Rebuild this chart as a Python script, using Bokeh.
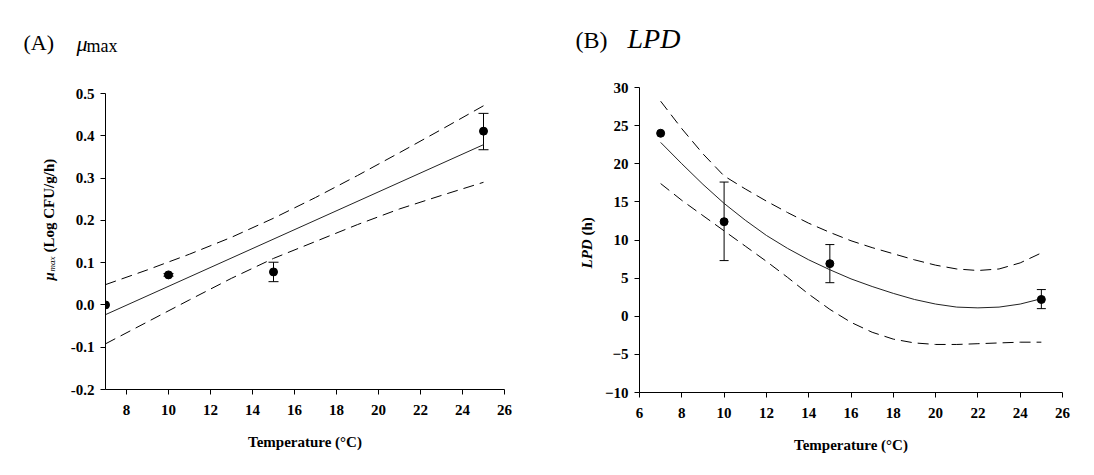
import math
from bokeh.plotting import figure
from bokeh.models import Range1d, FixedTicker, Whisker, ColumnDataSource, NumeralTickFormatter, TeeHead
from bokeh.core.properties import value
from bokeh.layouts import row, column
from bokeh.embed import file_html
from bokeh.resources import INLINE

# ---------------- data (A) mu_max ----------------
temp_a = [7, 10, 15, 25]
mu_a = [0.0, 0.071, 0.078, 0.411]
err_temp_a = [10, 15, 25]
err_lo_a = [0.068, 0.055, 0.367]
err_hi_a = [0.074, 0.101, 0.453]
line_x_a = [7, 25]
line_y_a = [-0.023, 0.379]
band_x_a = [7, 9, 11, 13, 15, 17, 19, 21, 23, 25]
band_up_a = [0.048, 0.083, 0.120, 0.160, 0.205, 0.254, 0.306, 0.360, 0.415, 0.471]
band_lo_a = [-0.092, -0.040, 0.012, 0.063, 0.110, 0.150, 0.190, 0.227, 0.259, 0.290]
xticks_a = [8, 10, 12, 14, 16, 18, 20, 22, 24, 26]
yticks_a = [-0.2, -0.1, 0.0, 0.1, 0.2, 0.3, 0.4, 0.5]

# ---------------- data (B) LPD ----------------
temp_b = [7, 10, 15, 25]
lpd_b = [24.0, 12.4, 6.9, 2.2]
err_temp_b = [10, 15, 25]
err_lo_b = [7.3, 4.4, 1.0]
err_hi_b = [17.6, 9.4, 3.5]
curve_x_b = [7, 8, 9, 10, 11, 12, 13, 14, 15, 16, 17, 18, 19, 20, 21, 22, 23, 24, 25]
curve_y_b = [22.8, 20.0, 17.3, 14.8, 12.6, 10.6, 8.9, 7.4, 6.1, 4.9, 3.9, 3.0, 2.2, 1.6, 1.2, 1.1, 1.2, 1.6, 2.3]
band_up_b = [28.2, 24.6, 21.3, 18.4, 16.7, 15.1, 13.6, 12.2, 11.0, 9.9, 9.0, 8.2, 7.4, 6.7, 6.2, 6.0, 6.2, 7.0, 8.3]
band_lo_b = [17.4, 15.2, 13.2, 11.2, 9.2, 7.2, 5.1, 2.9, 0.9, -0.8, -2.1, -3.0, -3.5, -3.7, -3.7, -3.6, -3.5, -3.4, -3.4]
xticks_b = [6, 8, 10, 12, 14, 16, 18, 20, 22, 24, 26]
yticks_b = [-10, -5, 0, 5, 10, 15, 20, 25, 30]

SERIF = "Liberation Serif"
DASH = "11 6"
HALF = math.pi / 2
TOP_H = 62  # height of the title strip


def style(p):
    p.grid.visible = False
    p.outline_line_color = None
    p.background_fill_color = "white"
    p.border_fill_color = "white"
    for ax in (p.xaxis[0], p.yaxis[0]):
        ax.axis_line_color = "black"
        ax.axis_line_width = 1
        ax.major_tick_line_color = "black"
        ax.major_tick_out = 5
        ax.major_tick_in = 0
        ax.minor_tick_line_color = None
        ax.major_label_text_font = SERIF
        ax.major_label_text_font_style = "bold"
        ax.major_label_text_font_size = "15px"
        ax.major_label_text_color = "black"
        ax.axis_label_text_font = SERIF
        ax.axis_label_text_font_style = "bold"
        ax.axis_label_text_font_size = "15px"
        ax.axis_label_text_color = "black"
    p.xaxis[0].major_label_standoff = 10
    p.yaxis[0].major_label_standoff = 6
    p.xaxis[0].axis_label_standoff = 16


def text_fig(x0, x1, y_bottom, y_top, fw, fh, bt=0, bb=0):
    f = figure(title=None, frame_width=fw, frame_height=fh, min_border_left=0, min_border_right=0,
               min_border_top=bt, min_border_bottom=bb,
               x_range=Range1d(x0, x1), y_range=Range1d(y_bottom, y_top),
               x_axis_type=None, y_axis_type=None,
               output_backend="svg", toolbar_location=None)
    f.outline_line_color = None
    f.background_fill_color = "white"
    f.border_fill_color = "white"
    return f


def txt(f, x, y, s, size, fstyle, angle=0.0, baseline="alphabetic"):
    f.text(x=[x], y=[y], text=[s], text_font=value(SERIF), text_font_size=value(size),
           text_font_style=value(fstyle), text_color="black", angle=angle,
           text_align=value("left"), text_baseline=value(baseline))


# ---------------- Panel titles (row 1) ----------------
title_a = text_fig(0, 553, TOP_H, 0, 553, TOP_H)
txt(title_a, 23, 42, "(A)", "22px", "normal")
txt(title_a, 76, 43, "μ", "22px", "italic")
txt(title_a, 86, 45, "max", "18px", "normal")

title_b = text_fig(553, 1082, TOP_H, 0, 529, TOP_H)
txt(title_b, 575, 39, "(B)", "24px", "normal")
txt(title_b, 627, 38, "LPD", "28px", "italic")

top_b = 87 - TOP_H

# ---------------- Panel A ----------------
ylab_a = text_fig(0, 60, 389, 87, 60, 302, bt=top_b, bb=81)
txt(ylab_a, 48, 280, "μ", "15px", "bold italic", angle=HALF, baseline="middle")
txt(ylab_a, 51, 271, "max", "9px", "italic", angle=HALF, baseline="middle")
txt(ylab_a, 48, 252, "(Log CFU/g/h)", "15px", "bold", angle=HALF, baseline="middle")

pa = figure(frame_width=399, frame_height=302, min_border_left=45, min_border_right=49,
            min_border_top=top_b, min_border_bottom=81,
            x_range=Range1d(7, 26), y_range=Range1d(-0.2, 0.5 + 6 * 0.7 / 296),
            output_backend="svg", toolbar_location=None)
style(pa)
pa.xaxis.ticker = FixedTicker(ticks=xticks_a)
pa.yaxis.ticker = FixedTicker(ticks=yticks_a)
pa.yaxis.bounds = (-0.2, 0.5)
pa.yaxis.formatter = NumeralTickFormatter(format="0.0")
pa.xaxis.axis_label = "Temperature (°C)"

pa.line(band_x_a, band_up_a, line_color="black", line_width=1, line_dash=DASH)
pa.line(band_x_a, band_lo_a, line_color="black", line_width=1, line_dash=DASH)
pa.line(line_x_a, line_y_a, line_color="#222222", line_width=1)
src_a = ColumnDataSource(dict(x=err_temp_a, lo=err_lo_a, hi=err_hi_a))
pa.add_layout(Whisker(base="x", lower="lo", upper="hi", source=src_a, line_color="black",
                      upper_head=TeeHead(size=10, line_color="black"),
                      lower_head=TeeHead(size=10, line_color="black")))
pa.scatter(temp_a, mu_a, size=8, fill_color="black", line_color="black")

# ---------------- Panel B ----------------
ylab_b = text_fig(553, 600, 392, 87, 47, 305, bt=top_b, bb=78)
txt(ylab_b, 586, 268, "LPD", "15px", "bold italic", angle=HALF, baseline="middle")
txt(ylab_b, 586, 235, "(h)", "15px", "bold", angle=HALF, baseline="middle")

pb = figure(frame_width=423, frame_height=305, min_border_left=39, min_border_right=20,
            min_border_top=top_b, min_border_bottom=78,
            x_range=Range1d(6, 26), y_range=Range1d(-10, 30),
            output_backend="svg", toolbar_location=None)
style(pb)
pb.xaxis.ticker = FixedTicker(ticks=xticks_b)
pb.yaxis.ticker = FixedTicker(ticks=yticks_b)
pb.xaxis.axis_label = "Temperature (°C)"

pb.line(curve_x_b, band_up_b, line_color="black", line_width=1, line_dash=DASH)
pb.line(curve_x_b, band_lo_b, line_color="black", line_width=1, line_dash=DASH)
pb.line(curve_x_b, curve_y_b, line_color="#222222", line_width=1)
src_b = ColumnDataSource(dict(x=err_temp_b, lo=err_lo_b, hi=err_hi_b))
pb.add_layout(Whisker(base="x", lower="lo", upper="hi", source=src_b, line_color="black",
                      upper_head=TeeHead(size=9, line_color="black"),
                      lower_head=TeeHead(size=9, line_color="black")))
pb.scatter(temp_b, lpd_b, size=8, fill_color="black", line_color="black")

layout = column(row(title_a, title_b), row(ylab_a, pa, ylab_b, pb))
open("out.html", "w").write(file_html(layout, INLINE))
